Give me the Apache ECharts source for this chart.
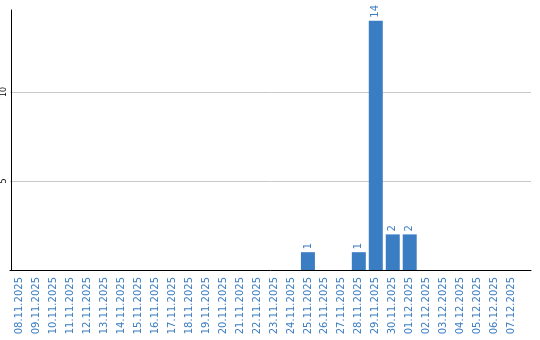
<!DOCTYPE html>
<html>
<head>
<meta charset="utf-8">
<script src="https://cdn.jsdelivr.net/npm/echarts@6/dist/echarts.min.js"></script>
<style>html,body{margin:0;padding:0;background:#fff}#c{width:540px;height:340px}</style>
</head>
<body>
<div id="c"></div>
<script>
const categories = ['08.11.2025','09.11.2025','10.11.2025','11.11.2025','12.11.2025','13.11.2025','14.11.2025','15.11.2025','16.11.2025','17.11.2025','18.11.2025','19.11.2025','20.11.2025','21.11.2025','22.11.2025','23.11.2025','24.11.2025','25.11.2025','26.11.2025','27.11.2025','28.11.2025','29.11.2025','30.11.2025','01.12.2025','02.12.2025','03.12.2025','04.12.2025','05.12.2025','06.12.2025','07.12.2025'];
const values = [null,null,null,null,null,null,null,null,null,null,null,null,null,null,null,null,null,1,null,null,1,14,2,2,null,null,null,null,null,null];
const yMax = 14.6;
const yInterval = 5;

const blue = '#3b7dc2';
const font = 'DejaVu Sans';
const chart = echarts.init(document.getElementById('c'), null, {renderer: 'canvas'});
chart.setOption({
  animation: false,
  grid: [
    {left: 10, right: 20, top: 10, bottom: 70},
    {left: 10, right: 9, top: 10, bottom: 70}
  ],
  xAxis: [
    {
      type: 'category', gridIndex: 0, data: categories,
      axisLine: {show: false}, axisTick: {show: false},
      axisLabel: {rotate: 90, margin: 7, color: blue, fontSize: 10, fontFamily: font, interval: 0}
    },
    {
      type: 'value', gridIndex: 1, min: 0, max: 1,
      axisLine: {show: true, lineStyle: {color: '#000', width: 1}},
      axisTick: {show: false}, axisLabel: {show: false}, splitLine: {show: false}
    }
  ],
  yAxis: [
    {
      type: 'value', gridIndex: 0, min: 0, max: yMax, interval: yInterval,
      axisLine: {show: true, lineStyle: {color: '#000', width: 1}},
      axisTick: {show: false},
      axisLabel: {rotate: 90, margin: 3, color: '#000', fontSize: 8, fontFamily: font, showMaxLabel: false, showMinLabel: false},
      splitLine: {show: false}
    },
    {
      type: 'value', gridIndex: 1, min: 0, max: yMax, interval: yInterval,
      axisLine: {show: false}, axisTick: {show: false}, axisLabel: {show: false},
      splitLine: {show: true, showMinLine: false, showMaxLine: false, lineStyle: {color: '#c8c8c8', width: 1}}
    }
  ],
  series: [{
    type: 'bar', xAxisIndex: 0, yAxisIndex: 0, data: values, barWidth: 14,
    itemStyle: {color: blue},
    label: {show: true, position: 'top', rotate: 90, align: 'left', verticalAlign: 'middle', distance: 3,
      color: blue, fontSize: 10, fontFamily: font}
  }]
});
</script>
</body>
</html>
